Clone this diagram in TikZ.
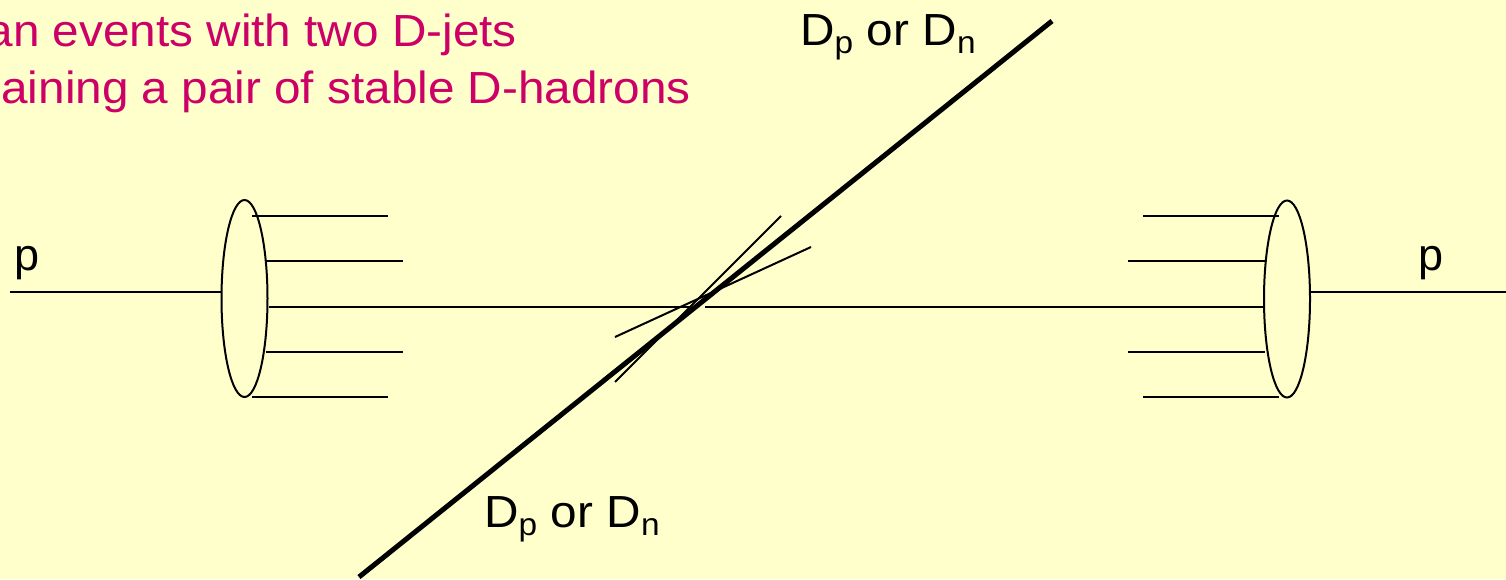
\documentclass[tikz,border=0pt]{standalone}
\usepackage{fontspec}
\setmainfont{Liberation Sans}
\newfontfamily\slidefont[FakeStretch=1.06]{Liberation Sans}
\usepackage{tikz}
\usetikzlibrary{shapes.geometric}
\definecolor{SlideYellow}{HTML}{FFFFCC}
\definecolor{SlidePink}{HTML}{CC0066}

\begin{document}
\begin{tikzpicture}[
  x=1pt,y=-1pt,
  every node/.style={font=\fontsize{45}{54}\selectfont,inner sep=0pt},
  wide text/.style={font=\slidefont\fontsize{45}{54}\selectfont},
  thin line/.style={line width=2pt},
  jet line/.style={line width=5pt},
  blob/.style={ellipse,draw,line width=2pt,minimum width=46pt,minimum height=197pt}
]
  \fill[SlideYellow] (0,0) rectangle (1506,579);
  \useasboundingbox (0,0) rectangle (1506,579);

  \node[anchor=base east,text=SlidePink,wide text] (capa) at (517,46) {an events with two D-jets};
  \node[anchor=base east,text=SlidePink,wide text] (capb) at (691,103) {aining a pair of stable D-hadrons};

  \node[blob] (lblob) at (244.5,298.5) {};
  \node[blob] (rblob) at (1287,299) {};

  % incoming protons
  \node[anchor=base west] (lp) at (14,270) {p};
  \node[anchor=base west] (rp) at (1418,270) {p};
  \draw[thin line] (10,292) -- (lblob.west |- 0,292);
  \draw[thin line] (rblob.east |- 0,292) -- (1506,292);

  % remnants
  \foreach \y/\xa/\xb in {216/252/388,261/266/403,352/266/403,397/252/388}{
    \draw[thin line] (\xa,\y) -- (\xb,\y);
    \draw[thin line] (1531-\xb,\y) -- (1531-\xa,\y);
  }
  \draw[thin line] (lblob.east |- 0,307) -- (690,307);
  \draw[thin line] (705,307) -- (rblob.west |- 0,307);

  % D-jets
  \draw[jet line] (359,577) -- (1052,21);
  \draw[thin line] (615,382) -- (781,216);
  \draw[thin line] (615,337) -- (811,247);
  \node[anchor=base west,wide text] (dtop) at (800,45) {D\textsubscript{p} or D\textsubscript{n}};
  \node[anchor=base west,wide text] (dbot) at (484,527) {D\textsubscript{p} or D\textsubscript{n}};
\end{tikzpicture}
\end{document}
